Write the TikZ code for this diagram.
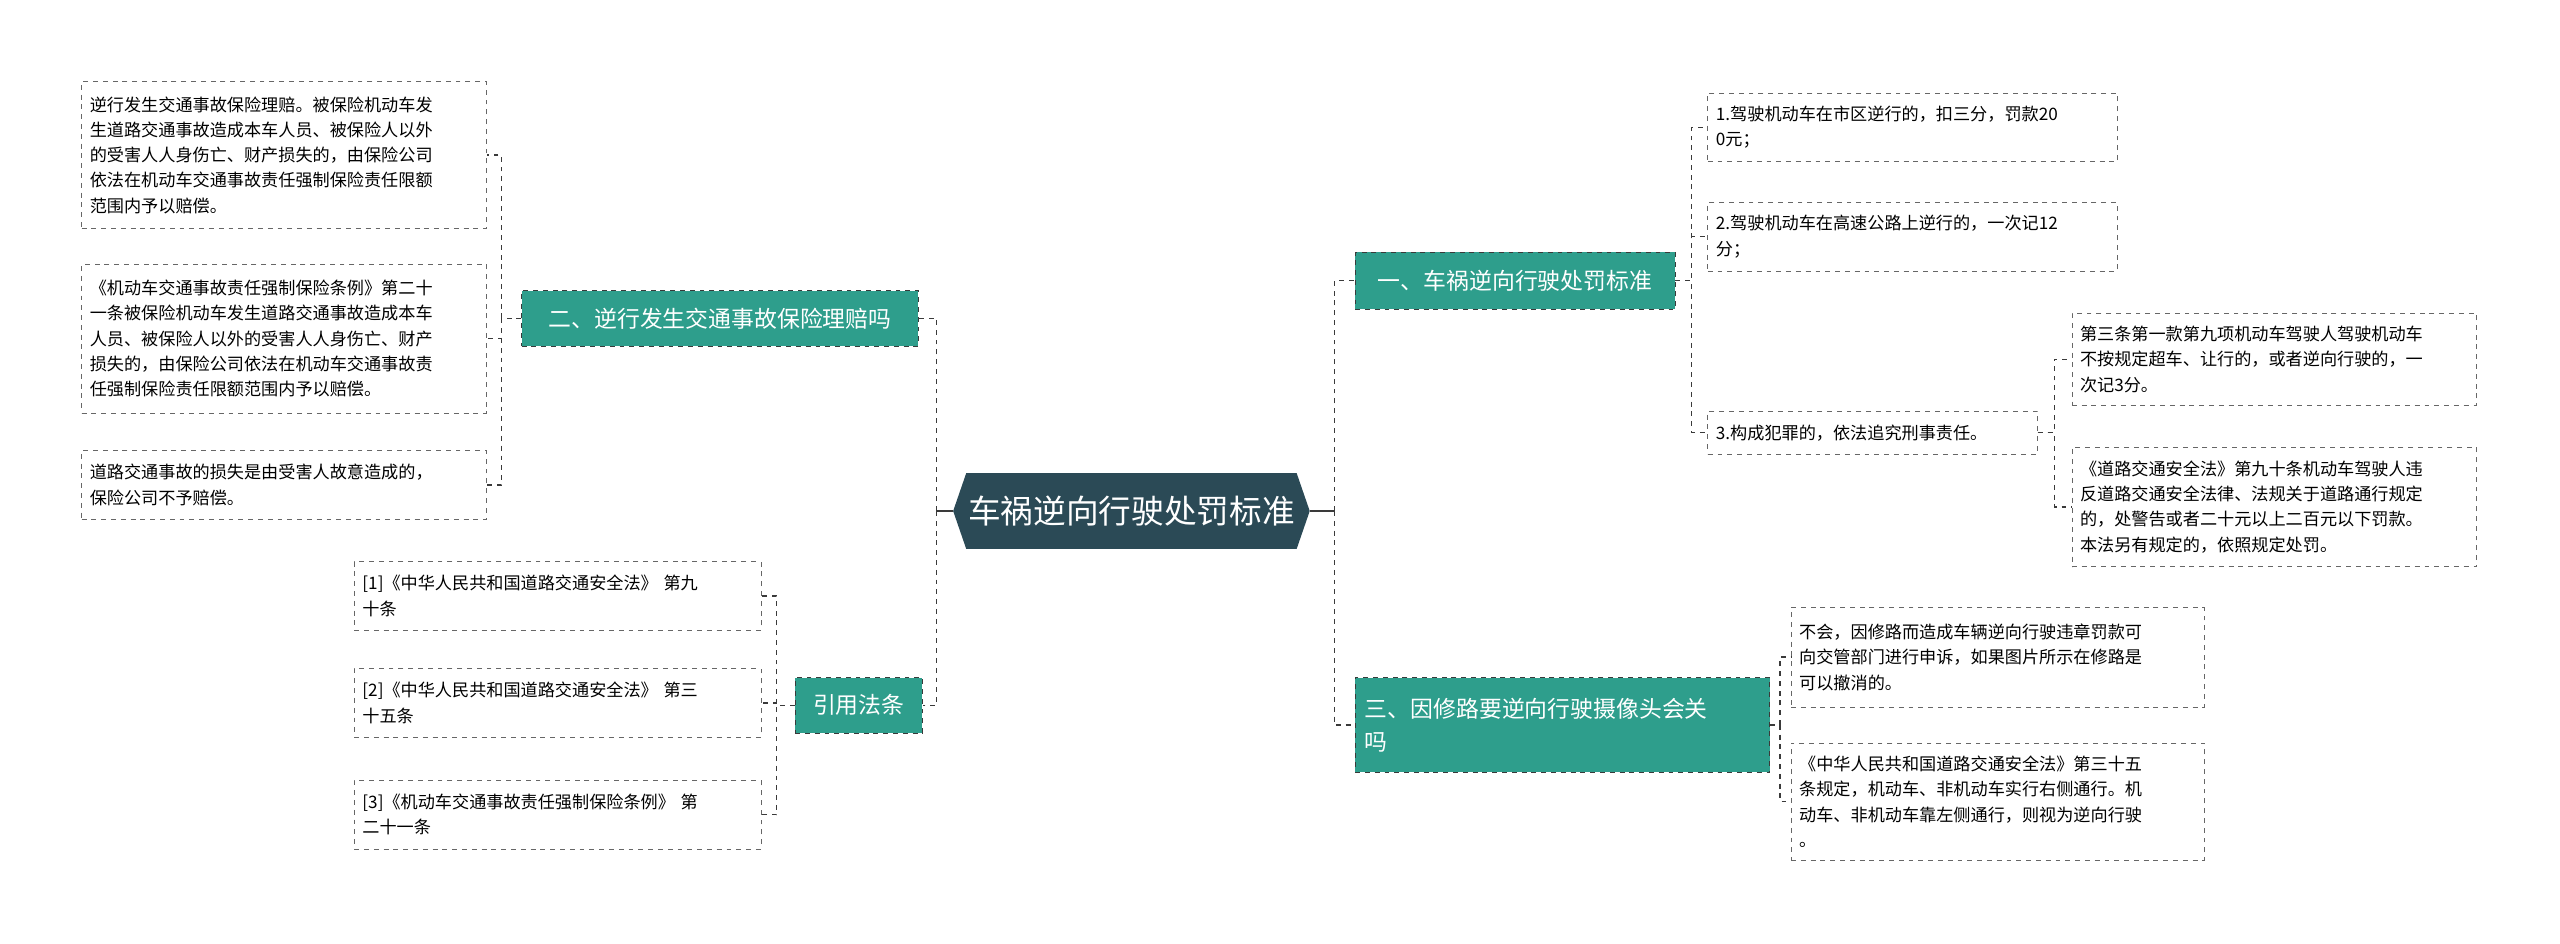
\documentclass[tikz,border=0pt]{standalone}
\usepackage{fontspec}
\setmainfont{Noto Sans CJK SC}
\usetikzlibrary{positioning}
\definecolor{rootfill}{HTML}{2B4A56}
\definecolor{branchfill}{HTML}{2E9E8C}
\definecolor{edgecol}{HTML}{3A3A3A}

\begin{document}
\begin{tikzpicture}[
x=1pt,y=1pt,
leaf/.style={
  draw=gray!80!black,
  dashed,
  fill=white,
  align=left,
  inner sep=5pt,
  font=\fontsize{10.5}{15.5}\selectfont
  },
branch/.style={
  draw=edgecol,
  dashed,
  fill=branchfill,
  text=white,
  align=left,
  inner sep=6pt,
  font=\fontsize{14}{20}\selectfont
  },
link/.style={
  draw=edgecol,
  dashed,
  line width=0.8pt
  }
]
\useasboundingbox (0,0) rectangle (1568,-578);

% central topic
\node[minimum width=218, minimum height=46, text=white,
  font=\fontsize{20}{24}\selectfont] (root) at (693,-313) {车祸逆向行驶处罚标准};
\fill[rootfill] ([xshift=8]root.north west) -- ([xshift=-8]root.north east) -- (root.east)
  -- ([xshift=-8]root.south east) -- ([xshift=8]root.south west) -- (root.west) -- cycle;
\node[text=white, font=\fontsize{20}{24}\selectfont] at (root.center) {车祸逆向行驶处罚标准};

% main branches
\node[branch, minimum width=243, minimum height=34] (b1) at (441,-195) {二、逆行发生交通事故保险理赔吗};
\node[branch, minimum width=78, minimum height=34] (b2) at (526,-432) {引用法条};
\node[branch, minimum width=196, minimum height=35] (r1) at (928,-172) {一、车祸逆向行驶处罚标准};
\node[branch, minimum width=254, minimum height=58, text width=242] (r3) at (957,-444) {三、因修路要逆向行驶摄像头会关\\吗};

% leaves, left
\node[leaf, minimum width=248, minimum height=90, text width=238] (l1) at (174,-95) {逆行发生交通事故保险理赔。被保险机动车发\\生道路交通事故造成本车人员、被保险人以外\\的受害人人身伤亡、财产损失的，由保险公司\\依法在机动车交通事故责任强制保险责任限额\\范围内予以赔偿。};
\node[leaf, minimum width=248, minimum height=91, text width=238] (l2) at (174,-207.5) {《机动车交通事故责任强制保险条例》第二十\\一条被保险机动车发生道路交通事故造成本车\\人员、被保险人以外的受害人人身伤亡、财产\\损失的，由保险公司依法在机动车交通事故责\\任强制保险责任限额范围内予以赔偿。};
\node[leaf, minimum width=248, minimum height=42, text width=238] (l3) at (174,-297) {道路交通事故的损失是由受害人故意造成的，\\保险公司不予赔偿。};
\node[leaf, minimum width=249, minimum height=42, text width=239] (c1) at (341.5,-365) {[1]《中华人民共和国道路交通安全法》 第九\\十条};
\node[leaf, minimum width=249, minimum height=42, text width=239] (c2) at (341.5,-430.5) {[2]《中华人民共和国道路交通安全法》 第三\\十五条};
\node[leaf, minimum width=249, minimum height=42, text width=239] (c3) at (341.5,-499) {[3]《机动车交通事故责任强制保险条例》 第\\二十一条};

% leaves, right
\node[leaf, minimum width=251, minimum height=42, text width=241] (s1) at (1171.5,-78) {1.驾驶机动车在市区逆行的，扣三分，罚款20\\0元；};
\node[leaf, minimum width=251, minimum height=42, text width=241] (s2) at (1171.5,-145) {2.驾驶机动车在高速公路上逆行的，一次记12\\分；};
\node[leaf, minimum width=202, minimum height=26, text width=192] (s3) at (1147,-265) {3.构成犯罪的，依法追究刑事责任。};
\node[leaf, minimum width=248, minimum height=56, text width=238] (s31) at (1393,-220) {第三条第一款第九项机动车驾驶人驾驶机动车\\不按规定超车、让行的，或者逆向行驶的，一\\次记3分。};
\node[leaf, minimum width=248, minimum height=73, text width=238] (s32) at (1393,-310.5) {《道路交通安全法》第九十条机动车驾驶人违\\反道路交通安全法律、法规关于道路通行规定\\的，处警告或者二十元以上二百元以下罚款。\\本法另有规定的，依照规定处罚。};
\node[leaf, minimum width=253, minimum height=61, text width=243] (t1) at (1223.5,-402.5) {不会，因修路而造成车辆逆向行驶违章罚款可\\向交管部门进行申诉，如果图片所示在修路是\\可以撤消的。};
\node[leaf, minimum width=253, minimum height=72, text width=243] (t2) at (1223.5,-491) {《中华人民共和国道路交通安全法》第三十五\\条规定，机动车、非机动车实行右侧通行。机\\动车、非机动车靠左侧通行，则视为逆向行驶\\。};

% connectors
\draw[edgecol, line width=0.8pt] (root.west) -- ++(-10,0);
\draw[edgecol, line width=0.8pt] (root.east) -- ++(15,0);
\foreach \b in {b1,b2}
  \draw[link] ([xshift=-10]root.west) |- (\b.east);
\foreach \b in {r1,r3}
  \draw[link] ([xshift=15]root.east) |- (\b.west);
\foreach \l in {l1,l2,l3}
  \draw[link] (b1.west) -- ++(-12,0) |- (\l.east);
\foreach \l in {c1,c2,c3}
  \draw[link] (b2.west) -- ++(-11,0) |- (\l.east);
\foreach \l in {s1,s2,s3}
  \draw[link] (r1.east) -- ++(10,0) |- (\l.west);
\foreach \l in {s31,s32}
  \draw[link] (s3.east) -- ++(10,0) |- (\l.west);
\foreach \l in {t1,t2}
  \draw[link] (r3.east) -- ++(6,0) |- (\l.west);
\end{tikzpicture}
\end{document}
